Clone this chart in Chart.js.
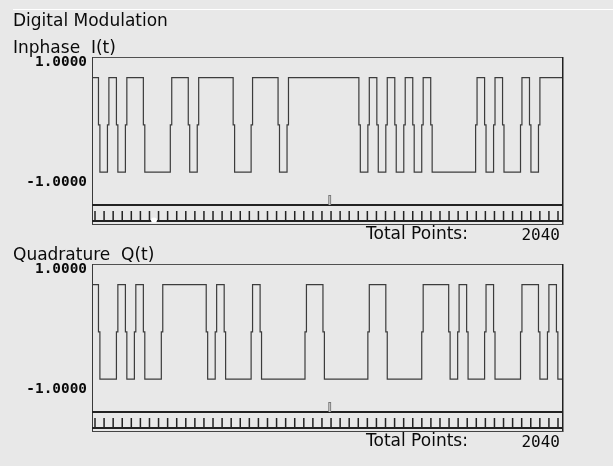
<!DOCTYPE html>
<html>
<head>
<meta charset="utf-8">
<script src="https://cdn.jsdelivr.net/npm/chart.js@4.4.1/dist/chart.umd.min.js"></script>
<style>
  html, body { margin:0; padding:0; background:#e8e8e8; width:613px; height:466px; overflow:hidden; position:relative; }
  .lbl { position:absolute; font-family:"DejaVu Sans"; font-size:17px; line-height:17px; color:#0a0a0a; white-space:pre; z-index:5; }
  .num { position:absolute; font-family:"DejaVu Sans Mono"; font-size:16px; line-height:16px; color:#0a0a0a; white-space:pre; z-index:5; }
  .box { position:absolute; left:0; width:613px; height:250px; }
</style>
</head>
<body>
<div style="position:absolute;left:13px;top:9px;width:600px;height:1px;background:#ffffff"></div>
<div class="lbl" style="left:13px;top:11.6px">Digital Modulation</div>
<div class="lbl" style="left:13px;top:38.6px">Inphase  I(t)</div>
<div class="lbl" style="left:13px;top:245.6px">Quadrature  Q(t)</div>
<div class="box" style="top:0px"><canvas id="chartI"></canvas></div>
<div class="box" style="top:207px"><canvas id="chartQ"></canvas></div>
<div class="lbl" style="left:366px;top:224.6px">Total Points:</div>
<div class="num" id="tp1" style="right:53px;top:226.5px"></div>
<div class="lbl" style="left:366px;top:431.6px">Total Points:</div>
<div class="num" id="tp2" style="right:53px;top:433.5px"></div>

<script>
// ---- data ----
// symbol levels (+1 / -1), first entry is the partially visible symbol at the left edge
const iSymbols = [1, -1,1,-1, 1,1, -1,-1,-1, 1,1, -1, 1,1,1,1, -1,-1, 1,1,1, -1,
  1,1,1,1,1,1,1,1, -1,1,-1,1,-1,1,-1,1, -1,-1,-1,-1,-1, 1,-1,1, -1,-1, 1, -1, 1,1,1];
const qSymbols = [1, -1,-1, 1, -1, 1, -1,-1, 1,1,1,1,1, -1, 1, -1,-1,-1, 1, -1,-1,-1,-1,-1,
  1,1, -1,-1,-1,-1,-1, 1,1, -1,-1,-1,-1, 1,1,1, -1, 1, -1,-1, 1, -1,-1,-1, 1,1, -1, 1, -1];
const amplitude = 0.7071;        // signal level
const firstBoundary = 0.8;       // first symbol boundary (in symbols)
const xMax = 52.34;              // visible span (in symbols)
const transitionHalf = 0.08;     // half width of the zero step at each transition
const yTickValues = [-1, 1];
const yTickLabels = ['-1.0000', '1.0000'];
const totalPoints = 2040;

document.getElementById('tp1').textContent = String(totalPoints);
document.getElementById('tp2').textContent = String(totalPoints);

function wave(bits) {
  const pts = [{ x: 0, y: bits[0] * amplitude }];
  for (let j = 1; j < bits.length; j++) {
    if (bits[j] !== bits[j - 1]) {
      const t = firstBoundary + j - 1;
      pts.push({ x: t - transitionHalf, y: 0 }, { x: t + transitionHalf, y: bits[j] * amplitude });
    }
  }
  pts.push({ x: xMax, y: bits[bits.length - 1] * amplitude });
  return pts;
}

const framePlugin = {
  id: 'frame',
  afterDatasetsDraw(chart, args, opts) {
    const { ctx, chartArea } = chart;
    const { left, right, top, bottom } = chartArea;
    const w = right - left;
    ctx.save();
    // frame
    ctx.fillStyle = '#505050';
    ctx.fillRect(left, top - 1, w, 1);
    ctx.fillStyle = '#3a3a3a';
    ctx.fillRect(left, top - 1, 1, bottom + 20 - top + 1);
    ctx.fillStyle = '#202020';
    ctx.fillRect(right, top - 1, 1.5, bottom + 20 - top + 1);
    // scroll bar
    ctx.fillStyle = '#222222';
    ctx.fillRect(left, bottom - 1, w, 2);
    ctx.fillStyle = '#777777';
    ctx.fillRect(left + 236.3, bottom - 10, 2.8, 10);
    ctx.fillStyle = '#d0d0d0';
    ctx.fillRect(left + 237.2, bottom - 9, 1, 9);
    ctx.fillStyle = '#222222';
    const n = 51;
    for (let k = 0; k <= n; k++) {
      const x = left + 3 + k * (w - 7) / n;
      ctx.fillRect(x - 0.75, bottom + 6, 1.5, 10);
    }
    ctx.fillRect(left, bottom + 15, w, 2);
    ctx.fillStyle = '#444444';
    ctx.fillRect(left, bottom + 19, w + 1, 1);
    if (opts.dot) {
      ctx.fillStyle = '#ffffff';
      ctx.beginPath();
      ctx.ellipse(left + 62, bottom + 15, 3, 2.6, 0, 0, Math.PI * 2);
      ctx.fill();
    }
    ctx.restore();
  }
};

function makeChart(id, bits, dot) {
  return new Chart(document.getElementById(id), {
    type: 'line',
    data: {
      datasets: [{
        data: wave(bits),
        stepped: true,
        borderColor: '#3c3c3c',
        borderWidth: 1.2,
        pointRadius: 0,
        fill: false,
        tension: 0
      }]
    },
    options: {
      responsive: true,
      maintainAspectRatio: false,
      animation: false,
      devicePixelRatio: 1,
      layout: { padding: { top: 58, right: 51, bottom: 45, left: 0 } },
      plugins: { legend: { display: false }, tooltip: { enabled: false }, frame: { dot: dot } },
      scales: {
        x: { type: 'linear', min: 0, max: xMax, display: false },
        y: {
          min: -1.2, max: 1.0,
          afterBuildTicks: s => { s.ticks = yTickValues.map(v => ({ value: v })); },
          afterFit: s => { s.width = 92; },
          grid: { display: false, drawTicks: false },
          border: { display: false },
          ticks: {
            autoSkip: false,
            padding: 5,
            color: '#0a0a0a',
            font: { family: 'DejaVu Sans Mono', size: 14.4, weight: 'bold', lineHeight: '9px' },
            callback: (v, i) => i === 0 ? [yTickLabels[0], '', ''] : ['', yTickLabels[1]]
          }
        }
      }
    },
    plugins: [framePlugin]
  });
}

makeChart('chartI', iSymbols, true);
makeChart('chartQ', qSymbols, false);
</script>
</body>
</html>
